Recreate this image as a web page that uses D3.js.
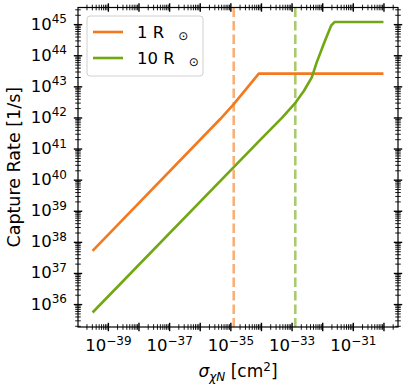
<!DOCTYPE html>
<html><head><meta charset="utf-8">
<script src="https://cdn.jsdelivr.net/npm/d3@7"></script>
<style>
html,body{margin:0;padding:0;background:#fff;}
text{font-family:"DejaVu Sans",sans-serif;fill:#000;}
</style></head>
<body>
<svg id="c" width="407" height="388"></svg>
<script>
// ---- data ----
const sigma1 = [3.16e-40, 4.68e-36, 1.29e-35, 8.51e-35, 1e-30];
const rate1  = [5.13e37, 8.91e41, 2.69e42, 2.57e43, 2.57e43];
const sigma10 = [3.16e-40, 1e-34, 5.01e-34, 1.35e-33, 2.51e-33, 4.57e-33, 6.61e-33, 1.17e-32, 1.95e-32, 2.51e-32, 1e-30];
const rate10  = [5.37e35, 2.0e41, 1.0e42, 3.02e42, 7.08e42, 1.95e43, 5.89e43, 2.57e44, 8.91e44, 1.17e45, 1.17e45];
const vline1 = 1.29e-35;
const vline10 = 1.32e-33;
const seriesNames = ["1 R", "10 R"];
const xMajorExps = [-40,-39,-38,-37,-36,-35,-34,-33,-32,-31,-30];
const xLabelExps = [-39,-37,-35,-33,-31];
const yMajorExps = [36,37,38,39,40,41,42,43,44,45];
const yLabelExps = [36,37,38,39,40,41,42,43,44,45];

const colOrange = "#f3791e", colGreen = "#71a712";
const L = 78, R = 398, T = 7.5, B = 327;
const svg = d3.select("#c");

// domains with 5% log margins
function logDom(arr){
  const lo = Math.log10(d3.min(arr)), hi = Math.log10(d3.max(arr));
  const m = (hi-lo)*0.05;
  return [Math.pow(10, lo-m), Math.pow(10, hi+m)];
}
const x = d3.scaleLog().domain(logDom(sigma1.concat(sigma10))).range([L, R]);
const y = d3.scaleLog().domain(logDom(rate1.concat(rate10))).range([B, T]);

function minorTicks(scale){
  const [a,b] = scale.domain();
  const out = [];
  for(let e=Math.floor(Math.log10(a))-1; e<=Math.ceil(Math.log10(b)); e++){
    for(let k=2;k<=9;k++){ const v = k*Math.pow(10,e); if(v>=a && v<=b) out.push(v); }
  }
  return out;
}
function majorIn(scale, exps){
  const [a,b] = scale.domain();
  return exps.map(e=>Math.pow(10,e)).filter(v=>v>=a*0.999 && v<=b*1.001);
}
const xMaj = majorIn(x, xMajorExps), yMaj = majorIn(y, yMajorExps);
const xMin = minorTicks(x), yMin = minorTicks(y);

// lines
const line = d3.line().x(d=>x(d[0])).y(d=>y(d[1]));
svg.append("path").datum(sigma1.map((s,i)=>[s,rate1[i]])).attr("d",line)
  .attr("fill","none").attr("stroke",colOrange).attr("stroke-width",2.6).attr("stroke-linejoin","round");
svg.append("path").datum(sigma10.map((s,i)=>[s,rate10[i]])).attr("d",line)
  .attr("fill","none").attr("stroke",colGreen).attr("stroke-width",2.6).attr("stroke-linejoin","round");

// vertical dashed lines
[[vline1,colOrange],[vline10,colGreen]].forEach(([v,c])=>{
  svg.append("line").attr("x1",x(v)).attr("x2",x(v)).attr("y1",T).attr("y2",B)
    .attr("stroke",c).attr("stroke-opacity",0.6).attr("stroke-width",2.6).attr("stroke-dasharray","9.5,4");
});

// axes with in-out ticks
function drawAxis(axisFn, scale, transform, vals, len, width, vertical){
  const g = svg.append("g").attr("transform",transform)
    .call(axisFn(scale).tickValues(vals).tickSize(len).tickFormat(""));
  g.select(".domain").remove();
  g.selectAll(".tick line").attr("stroke","#000").attr("stroke-width",width);
  if(vertical) g.selectAll(".tick line").attr("x1",-len).attr("x2",len);
  else g.selectAll(".tick line").attr("y1",-len).attr("y2",len);
  return g;
}
[["b",d3.axisBottom,`translate(0,${B})`,x,false],["t",d3.axisTop,`translate(0,${T})`,x,false],
 ["l",d3.axisLeft,`translate(${L},0)`,y,true],["r",d3.axisRight,`translate(${R},0)`,y,true]].forEach(([k,fn,tr,sc,vert])=>{
  drawAxis(fn, sc, tr, vert? yMin : xMin, 2.8, 0.9, vert);
  const g = drawAxis(fn, sc, tr, vert? yMaj : xMaj, 4.2, 1.4, vert);
  g.attr("class","major-"+k);
});

// frame
svg.append("rect").attr("x",L).attr("y",T).attr("width",R-L).attr("height",B-T)
  .attr("fill","none").attr("stroke","#000").attr("stroke-width",1.2);

// tick labels
const xLab = xLabelExps.map(e=>Math.pow(10,e));
svg.select(".major-b").selectAll(".tick").filter(d=>xLab.some(v=>Math.abs(Math.log10(v)-Math.log10(d))<1e-6))
  .each(function(d){
    const e = Math.round(Math.log10(d));
    const t = d3.select(this).append("text").attr("x",0).attr("y",24).attr("text-anchor","middle").attr("font-size",16.5);
    t.append("tspan").text("10");
    t.append("tspan").attr("font-size",12).attr("dy",-6.5).text((e<0?"\u2212":"")+Math.abs(e));
  });
const yLab = yLabelExps.map(e=>Math.pow(10,e));
svg.select(".major-l").selectAll(".tick").filter(d=>yLab.some(v=>Math.abs(Math.log10(v)-Math.log10(d))<1e-6))
  .each(function(d){
    const e = Math.round(Math.log10(d));
    const t = d3.select(this).append("text").attr("x",-11).attr("y",5).attr("text-anchor","end").attr("font-size",16.5);
    t.append("tspan").text("10");
    t.append("tspan").attr("font-size",12).attr("dy",-6.5).text((e<0?"\u2212":"")+Math.abs(e));
  });

// axis titles
const xt = svg.append("text").attr("x",(L+R)/2).attr("y",377).attr("text-anchor","middle").attr("font-size",17);
xt.append("tspan").attr("font-style","italic").text("\u03C3");
xt.append("tspan").attr("font-style","italic").attr("font-size",12).attr("dy",4).text("\u03C7N");
xt.append("tspan").attr("dy",-4).text(" [cm");
xt.append("tspan").attr("font-size",12).attr("dy",-6.5).text("2");
xt.append("tspan").attr("dy",6.5).text("]");
svg.append("text").attr("transform",`translate(20,${(T+B)/2}) rotate(-90)`).attr("text-anchor","middle")
  .attr("font-size",17.5).text("Capture Rate [1/s]");

// legend
const lg = svg.append("g");
lg.append("rect").attr("x",87).attr("y",16).attr("width",116).attr("height",60).attr("rx",3)
  .attr("fill","#fff").attr("fill-opacity",0.8).attr("stroke","#d0d0d0").attr("stroke-width",1);
[[colOrange,seriesNames[0],32],[colGreen,seriesNames[1],58]].forEach(([c,n,yy])=>{
  lg.append("line").attr("x1",93).attr("x2",123).attr("y1",yy).attr("y2",yy).attr("stroke",c).attr("stroke-width",2.6);
  const t = lg.append("text").attr("x",137).attr("y",yy+6).attr("font-size",16.5);
  t.append("tspan").text(n);
  t.append("tspan").attr("font-size",12).attr("dx",14).attr("dy",1.5).text("\u2299");
});
</script>
</body></html>
